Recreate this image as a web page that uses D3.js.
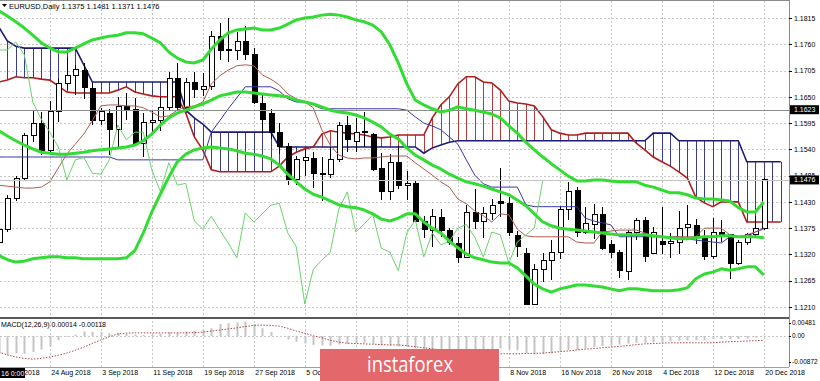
<!DOCTYPE html>
<html lang="en">
	<head>
		<meta charset="utf-8">
		<title>EURUSD, Daily</title>
		<script type="text/javascript" src="https://cdn.jsdelivr.net/npm/d3@7/dist/d3.min.js"></script>
		<style type="text/css">
			body {
				margin: 0;
				background: #ffffff;
			}
			svg {
				display: block;
			}
			text {
				font-family: "Liberation Sans", Arial, sans-serif;
				font-size: 7px;
				fill: #000000;
			}
			.grid line {
				stroke: #c8c8c8;
				stroke-dasharray: 2,2;
				shape-rendering: crispEdges;
			}
			.axis path {
				display: none;
			}
			.axis line {
				stroke: #000000;
				shape-rendering: crispEdges;
			}
			.macd.axis text {
				font-size: 6.5px;
			}
		</style>
	</head>
	<body>
		<script type="text/javascript">
			//Daily candles, 16 Aug 2018 .. 20 Dec 2018 (index 0 .. 90)
			var opens = [
				1.1344,1.1372,1.1438,1.1480,1.1568,1.1595,1.1537,1.1620,1.1677,1.1694,
				1.1706,1.1668,1.1600,1.1616,1.1581,1.1629,1.1623,1.1553,1.1597,1.1600,
				1.1627,1.1689,1.1627,1.1681,1.1666,1.1671,1.1777,1.1750,1.1748,1.1765,
				1.1738,1.1637,1.1616,1.1576,1.1545,1.1476,1.1517,1.1521,1.1490,1.1488,
				1.1518,1.1589,1.1556,1.1578,1.1572,1.1500,1.1452,1.1513,1.1465,1.1469,
				1.1390,1.1371,1.1398,1.1371,1.1342,1.1313,1.1407,1.1388,1.1405,1.1430,
				1.1427,1.1360,1.1323,1.1216,1.1289,1.1308,1.1325,1.1415,1.1453,1.1367,
				1.1382,1.1403,1.1340,1.1325,1.1284,1.1365,1.1392,1.1323,1.1348,1.1343,
				1.1344,1.1377,1.1381,1.1356,1.1315,1.1367,1.1361,1.1302,1.1346,1.1361,
				1.1375];
			var highs = [
				1.1404,1.1444,1.1485,1.1575,1.1620,1.1618,1.1642,1.1687,1.1733,1.1717,
				1.1720,1.1679,1.1627,1.1624,1.1649,1.1658,1.1648,1.1616,1.1620,1.1650,
				1.1702,1.1721,1.1690,1.1702,1.1700,1.1788,1.1804,1.1815,1.1786,1.1798,
				1.1753,1.1655,1.1624,1.1595,1.1553,1.1526,1.1540,1.1534,1.1524,1.1545,
				1.1597,1.1610,1.1606,1.1618,1.1575,1.1532,1.1530,1.1548,1.1495,1.1476,
				1.1401,1.1415,1.1415,1.1375,1.1357,1.1424,1.1456,1.1420,1.1436,1.1500,
				1.1440,1.1370,1.1334,1.1300,1.1323,1.1350,1.1421,1.1472,1.1461,1.1420,
				1.1426,1.1420,1.1350,1.1330,1.1372,1.1396,1.1398,1.1378,1.1419,1.1365,
				1.1412,1.1423,1.1395,1.1371,1.1396,1.1392,1.1363,1.1350,1.1365,1.1400,
				1.1481];
			var lows = [
				1.1334,1.1366,1.1432,1.1476,1.1556,1.1528,1.1533,1.1597,1.1664,1.1653,
				1.1645,1.1591,1.1590,1.1528,1.1545,1.1601,1.1550,1.1525,1.1575,1.1578,
				1.1622,1.1622,1.1625,1.1647,1.1652,1.1664,1.1727,1.1723,1.1727,1.1727,
				1.1636,1.1575,1.1562,1.1530,1.1465,1.1465,1.1485,1.1459,1.1432,1.1480,
				1.1514,1.1534,1.1534,1.1545,1.1495,1.1434,1.1433,1.1458,1.1433,1.1388,
				1.1355,1.1336,1.1357,1.1340,1.1302,1.1313,1.1373,1.1355,1.1392,1.1398,
				1.1358,1.1315,1.1214,1.1214,1.1263,1.1267,1.1310,1.1392,1.1357,1.1362,
				1.1353,1.1329,1.1313,1.1270,1.1267,1.1350,1.1304,1.1321,1.1320,1.1313,
				1.1320,1.1350,1.1342,1.1309,1.1310,1.1346,1.1268,1.1297,1.1340,1.1355,
				1.1371];
			var closes = [
				1.1372,1.1438,1.1480,1.1570,1.1595,1.1537,1.1620,1.1677,1.1694,1.1708,
				1.1670,1.1601,1.1620,1.1581,1.1629,1.1624,1.1553,1.1597,1.1600,1.1627,
				1.1689,1.1627,1.1681,1.1666,1.1671,1.1777,1.1748,1.1748,1.1765,1.1738,
				1.1639,1.1603,1.1576,1.1545,1.1476,1.1518,1.1523,1.1490,1.1488,1.1518,
				1.1591,1.1560,1.1576,1.1576,1.1497,1.1452,1.1512,1.1465,1.1469,1.1390,
				1.1373,1.1400,1.1371,1.1344,1.1313,1.1407,1.1388,1.1405,1.1423,1.1427,
				1.1365,1.1336,1.1216,1.1289,1.1308,1.1325,1.1415,1.1451,1.1367,1.1384,
				1.1403,1.1333,1.1325,1.1286,1.1365,1.1392,1.1315,1.1365,1.1340,1.1347,
				1.1375,1.1383,1.1356,1.1315,1.1367,1.1361,1.1302,1.1346,1.1361,1.1375,
				1.1476];

			//Bollinger bands
			var bbUpper = [
				1.1830,1.1819,1.1807,1.1794,1.1779,1.1763,1.1752,1.1744,1.1744,1.1752,
				1.1761,1.1769,1.1773,1.1777,1.1779,1.1784,1.1784,1.1782,1.1773,1.1763,
				1.1744,1.1731,1.1723,1.1721,1.1727,1.1750,1.1769,1.1784,1.1790,1.1792,
				1.1794,1.1790,1.1790,1.1794,1.1802,1.1811,1.1815,1.1817,1.1821,1.1823,
				1.1821,1.1817,1.1811,1.1807,1.1800,1.1786,1.1759,1.1721,1.1677,1.1643,
				1.1633,1.1625,1.1618,1.1622,1.1629,1.1625,1.1622,1.1618,1.1614,1.1606,
				1.1589,1.1574,1.1555,1.1539,1.1524,1.1510,1.1497,1.1484,1.1474,1.1474,
				1.1476,1.1476,1.1474,1.1472,1.1472,1.1472,1.1465,1.1461,1.1455,1.1449,
				1.1449,1.1445,1.1438,1.1436,1.1436,1.1434,1.1432,1.1418,1.1409,1.1409,
				1.1430];
			var bbMiddle = [
				1.1579,1.1568,1.1558,1.1549,1.1541,1.1534,1.1532,1.1530,1.1530,1.1532,
				1.1534,1.1537,1.1539,1.1541,1.1543,1.1545,1.1549,1.1558,1.1572,1.1591,
				1.1606,1.1616,1.1622,1.1629,1.1635,1.1643,1.1652,1.1656,1.1660,1.1660,
				1.1658,1.1656,1.1654,1.1652,1.1650,1.1643,1.1639,1.1635,1.1629,1.1622,
				1.1618,1.1616,1.1612,1.1606,1.1597,1.1587,1.1572,1.1562,1.1543,1.1528,
				1.1518,1.1507,1.1499,1.1488,1.1480,1.1472,1.1468,1.1463,1.1457,1.1451,
				1.1445,1.1434,1.1422,1.1405,1.1388,1.1380,1.1375,1.1373,1.1371,1.1369,
				1.1367,1.1365,1.1363,1.1361,1.1361,1.1361,1.1361,1.1359,1.1357,1.1355,
				1.1353,1.1353,1.1355,1.1357,1.1357,1.1359,1.1359,1.1357,1.1357,1.1357,
				1.1355];
			var bbLower = [
				1.1318,1.1309,1.1304,1.1306,1.1311,1.1313,1.1315,1.1315,1.1313,1.1313,
				1.1311,1.1311,1.1311,1.1311,1.1311,1.1313,1.1328,1.1365,1.1409,1.1446,
				1.1482,1.1514,1.1530,1.1539,1.1543,1.1545,1.1543,1.1541,1.1537,1.1532,
				1.1530,1.1526,1.1520,1.1507,1.1488,1.1472,1.1457,1.1446,1.1440,1.1432,
				1.1424,1.1420,1.1418,1.1413,1.1405,1.1394,1.1390,1.1396,1.1405,1.1405,
				1.1388,1.1375,1.1365,1.1348,1.1334,1.1321,1.1313,1.1309,1.1304,1.1302,
				1.1302,1.1292,1.1275,1.1258,1.1248,1.1241,1.1248,1.1252,1.1256,1.1256,
				1.1254,1.1252,1.1248,1.1244,1.1248,1.1248,1.1246,1.1244,1.1244,1.1244,
				1.1246,1.1250,1.1269,1.1279,1.1283,1.1290,1.1287,1.1290,1.1294,1.1294,
				1.1277];

			//Ichimoku
			var tenkan = [
				1.1465,1.1463,1.1461,1.1459,1.1459,1.1461,1.1472,1.1501,1.1530,1.1551,
				1.1572,1.1600,1.1631,1.1633,1.1633,1.1631,1.1631,1.1627,1.1618,1.1608,
				1.1610,1.1622,1.1629,1.1631,1.1639,1.1677,1.1694,1.1706,1.1715,1.1717,
				1.1715,1.1696,1.1687,1.1675,1.1656,1.1646,1.1639,1.1627,1.1581,1.1549,
				1.1528,1.1522,1.1520,1.1522,1.1522,1.1524,1.1526,1.1526,1.1526,1.1512,
				1.1499,1.1486,1.1472,1.1461,1.1436,1.1426,1.1411,1.1401,1.1388,1.1405,
				1.1403,1.1373,1.1359,1.1357,1.1357,1.1357,1.1357,1.1357,1.1346,1.1344,
				1.1344,1.1367,1.1369,1.1371,1.1371,1.1371,1.1365,1.1359,1.1357,1.1357,
				1.1357,1.1357,1.1357,1.1375,1.1375,1.1375,1.1361,1.1357,1.1361,1.1367,
				1.1373];
			var kijun = [
				1.1524,1.1524,1.1524,1.1524,1.1524,1.1524,1.1524,1.1524,1.1524,1.1524,
				1.1524,1.1524,1.1524,1.1524,1.1518,1.1518,1.1518,1.1518,1.1518,1.1518,
				1.1518,1.1518,1.1518,1.1518,1.1518,1.1576,1.1600,1.1625,1.1648,1.1671,
				1.1671,1.1671,1.1671,1.1662,1.1646,1.1639,1.1639,1.1633,1.1625,1.1625,
				1.1625,1.1625,1.1625,1.1625,1.1625,1.1625,1.1625,1.1625,1.1622,1.1608,
				1.1595,1.1589,1.1581,1.1566,1.1551,1.1518,1.1486,1.1468,1.1461,1.1461,
				1.1461,1.1461,1.1424,1.1420,1.1420,1.1420,1.1420,1.1420,1.1420,1.1396,
				1.1390,1.1386,1.1382,1.1357,1.1357,1.1357,1.1357,1.1357,1.1357,1.1357,
				1.1357,1.1353,1.1350,1.1348,1.1346,1.1344,1.1357,1.1357,1.1357,1.1367,
				1.1375];
			var senkouA = [
				1.1681,1.1685,1.1692,1.1690,1.1690,1.1687,1.1685,1.1673,1.1660,1.1658,
				1.1658,1.1658,1.1658,1.1658,1.1664,1.1671,1.1660,1.1656,1.1652,1.1650,
				1.1650,1.1650,1.1616,1.1566,1.1539,1.1497,1.1493,1.1493,1.1493,1.1493,
				1.1493,1.1493,1.1493,1.1505,1.1524,1.1534,1.1541,1.1545,1.1572,1.1579,
				1.1576,1.1574,1.1572,1.1570,1.1566,1.1564,1.1566,1.1570,1.1570,1.1570,
				1.1570,1.1606,1.1633,1.1650,1.1677,1.1692,1.1692,1.1681,1.1679,1.1664,
				1.1641,1.1637,1.1635,1.1631,1.1608,1.1581,1.1574,1.1570,1.1570,1.1574,
				1.1574,1.1574,1.1574,1.1574,1.1574,1.1553,1.1539,1.1524,1.1514,1.1505,
				1.1493,1.1480,1.1440,1.1428,1.1420,1.1430,1.1430,1.1430,1.1388,1.1388,
				1.1388,1.1388,1.1388];
			var senkouB = [
				1.1796,1.1767,1.1756,1.1752,1.1752,1.1752,1.1752,1.1752,1.1752,1.1752,
				1.1717,1.1681,1.1681,1.1681,1.1681,1.1681,1.1681,1.1681,1.1681,1.1681,
				1.1681,1.1681,1.1622,1.1606,1.1593,1.1576,1.1576,1.1576,1.1576,1.1576,
				1.1576,1.1576,1.1576,1.1545,1.1545,1.1545,1.1545,1.1545,1.1545,1.1545,
				1.1545,1.1545,1.1545,1.1545,1.1545,1.1545,1.1545,1.1545,1.1545,1.1545,
				1.1532,1.1543,1.1549,1.1555,1.1558,1.1558,1.1558,1.1558,1.1558,1.1558,
				1.1558,1.1558,1.1558,1.1558,1.1558,1.1558,1.1558,1.1558,1.1558,1.1558,
				1.1558,1.1558,1.1558,1.1558,1.1558,1.1558,1.1558,1.1574,1.1574,1.1574,
				1.1558,1.1558,1.1558,1.1558,1.1558,1.1558,1.1558,1.1558,1.1514,1.1514,
				1.1514,1.1514,1.1514];
			var chikouShift = 26;

			//MACD(12,26,9)
			var macdMain = [
				-0.0050,-0.0052,-0.0049,-0.0050,-0.0045,-0.0038,-0.0030,-0.0012,-0.0002,0.0004,
				0.0013,0.0012,0.0011,0.0008,0.0009,0.0007,0.0004,0.0003,0.0004,0.0006,
				0.0011,0.0010,0.0013,0.0014,0.0017,0.0022,0.0034,0.0036,0.0038,0.0041,
				0.0034,0.0022,0.0012,0.0000,-0.0010,-0.0016,-0.0021,-0.0025,-0.0026,-0.0027,
				-0.0024,-0.0022,-0.0020,-0.0019,-0.0022,-0.0026,-0.0027,-0.0029,-0.0031,-0.0035,
				-0.0039,-0.0041,-0.0043,-0.0046,-0.0049,-0.0045,-0.0043,-0.0040,-0.0037,-0.0035,
				-0.0037,-0.0040,-0.0049,-0.0052,-0.0051,-0.0049,-0.0044,-0.0040,-0.0039,-0.0035,
				-0.0030,-0.0028,-0.0025,-0.0024,-0.0021,-0.0019,-0.0019,-0.0018,-0.0016,-0.0015,
				-0.0013,-0.0012,-0.0011,-0.0012,-0.0009,-0.0008,-0.0009,-0.0008,-0.0007,-0.0004,
				0.00014];
			var macdSignal = [
				-0.0045,-0.0053,-0.0059,-0.0063,-0.0065,-0.0063,-0.0059,-0.0054,-0.0048,-0.0040,
				-0.0031,-0.0021,-0.0011,-0.0002,0.0006,0.0008,0.0009,0.0009,0.0009,0.0009,
				0.0009,0.0009,0.0009,0.0010,0.0011,0.0014,0.0017,0.0020,0.0023,0.0027,
				0.0030,0.0031,0.0030,0.0028,0.0022,0.0014,0.0008,0.0001,-0.0005,-0.0012,
				-0.0017,-0.0020,-0.0021,-0.0022,-0.0023,-0.0024,-0.0025,-0.0025,-0.0027,-0.0030,
				-0.0033,-0.0036,-0.0039,-0.0042,-0.0045,-0.0047,-0.0049,-0.0050,-0.0050,-0.0050,
				-0.0050,-0.0050,-0.0049,-0.0049,-0.0048,-0.0046,-0.0044,-0.0042,-0.0039,-0.0037,
				-0.0035,-0.0033,-0.0031,-0.0029,-0.0027,-0.0024,-0.0022,-0.0021,-0.0020,-0.0019,
				-0.0019,-0.0019,-0.0019,-0.0019,-0.0019,-0.0017,-0.0016,-0.0015,-0.0014,-0.0013,
				-0.00118];

			//Axis labels
			var priceTicks = [1.1815,1.1760,1.1705,1.1650,1.1595,1.1540,1.1485,1.1430,1.1375,1.1320,1.1265,1.1210];
			var macdTicks = [0.00481, 0, -0.00872];
			var dateTickIndex = [0,6,12,18,24,30,36,42,48,54,60,66,72,78,84,90];
			var dateTickLabels = ["16 Aug 2018","24 Aug 2018","3 Sep 2018","11 Sep 2018","19 Sep 2018","27 Sep 2018",
				"5 Oct 2018","15 Oct 2018","23 Oct 2018","31 Oct 2018","8 Nov 2018","16 Nov 2018",
				"26 Nov 2018","4 Dec 2018","12 Dec 2018","20 Dec 2018"];
			var levelLine = 1.1623;

			//Width and height
			var w = 820;
			var h = 381;
			var plotRight = 789;
			var mainTop = 1;
			var mainBottom = 317;
			var macdTop = 319;
			var macdBottom = 367;
			var last = closes.length - 1;

			//Scales
			var xScale = d3.scaleLinear()
				.domain([0, 90])
				.range([-1.2, 763.8]);
			var yScale = d3.scaleLinear()
				.domain([1.1210, 1.1815])
				.range([307, 18]);
			var mScale = d3.scaleLinear()
				.domain([-0.00872, 0.00481])
				.range([macdBottom, macdTop]);

			function px(i) {
				return Math.round(xScale(i)) + 0.5;
			}

			var svg = d3.select("body")
				.append("svg")
				.attr("width", w)
				.attr("height", h);

			svg.append("rect")
				.attr("width", w)
				.attr("height", h)
				.attr("fill", "#ffffff");

			svg.append("clipPath")
				.attr("id", "main-area")
				.append("rect")
				.attr("x", 0)
				.attr("y", mainTop)
				.attr("width", plotRight)
				.attr("height", mainBottom - mainTop);

			svg.append("clipPath")
				.attr("id", "macd-area")
				.append("rect")
				.attr("x", 0)
				.attr("y", macdTop)
				.attr("width", plotRight)
				.attr("height", macdBottom - macdTop);

			//Grid
			var grid = svg.append("g").attr("class", "grid");
			grid.selectAll(".hg")
				.data(priceTicks)
				.enter()
				.append("line")
				.attr("x1", 0)
				.attr("x2", plotRight)
				.attr("y1", function(d) { return Math.round(yScale(d)) + 0.5; })
				.attr("y2", function(d) { return Math.round(yScale(d)) + 0.5; });
			grid.selectAll(".vg")
				.data(dateTickIndex)
				.enter()
				.append("line")
				.attr("x1", function(d) { return px(d); })
				.attr("x2", function(d) { return px(d); })
				.attr("y1", mainTop)
				.attr("y2", macdBottom);
			grid.append("line")
				.attr("x1", 0)
				.attr("x2", plotRight)
				.attr("y1", Math.round(mScale(0)) + 0.5)
				.attr("y2", Math.round(mScale(0)) + 0.5);

			var main = svg.append("g").attr("clip-path", "url(#main-area)");

			//Ichimoku cloud hatch
			main.append("g")
				.selectAll("line")
				.data(d3.range(senkouA.length))
				.enter()
				.append("line")
				.attr("x1", function(i) { return px(i); })
				.attr("x2", function(i) { return px(i); })
				.attr("y1", function(i) { return yScale(senkouA[i]); })
				.attr("y2", function(i) { return yScale(senkouB[i]); })
				.attr("stroke", function(i) { return senkouA[i] > senkouB[i] ? "#b43a3a" : "#3b3b8c"; })
				.attr("stroke-width", 1);

			var lineGen = function(arr, offset) {
				return d3.line()
					.x(function(d, i) { return xScale(i + (offset || 0)); })
					.y(function(d) { return yScale(d); })(arr);
			};

			main.append("path")
				.attr("d", lineGen(senkouB))
				.attr("fill", "none")
				.attr("stroke", "#1c1c78")
				.attr("stroke-width", 1.6);
			main.append("path")
				.attr("d", lineGen(senkouA))
				.attr("fill", "none")
				.attr("stroke", "#b01c1c")
				.attr("stroke-width", 1.6);

			//Candles
			var bars = d3.range(closes.length);
			var candles = main.append("g");
			candles.selectAll("line")
				.data(bars)
				.enter()
				.append("line")
				.attr("x1", function(i) { return px(i); })
				.attr("x2", function(i) { return px(i); })
				.attr("y1", function(i) { return yScale(highs[i]); })
				.attr("y2", function(i) { return yScale(lows[i]); })
				.attr("stroke", "#000000")
				.attr("shape-rendering", "crispEdges");
			candles.selectAll("rect")
				.data(bars)
				.enter()
				.append("rect")
				.attr("x", function(i) { return px(i) - 2.5; })
				.attr("y", function(i) { return yScale(Math.max(opens[i], closes[i])); })
				.attr("width", 5)
				.attr("height", function(i) { return Math.max(1, Math.abs(yScale(opens[i]) - yScale(closes[i]))); })
				.attr("fill", function(i) { return closes[i] >= opens[i] ? "#ffffff" : "#000000"; })
				.attr("stroke", "#000000")
				.attr("stroke-width", 1)
				.attr("shape-rendering", "crispEdges");

			//Tenkan, Kijun, Chikou
			main.append("path")
				.attr("d", lineGen(kijun))
				.attr("fill", "none")
				.attr("stroke", "#3838a8")
				.attr("stroke-width", 1);
			main.append("path")
				.attr("d", lineGen(tenkan))
				.attr("fill", "none")
				.attr("stroke", "#b05a52")
				.attr("stroke-width", 1);
			main.append("path")
				.attr("d", lineGen(closes.slice(chikouShift), 0))
				.attr("fill", "none")
				.attr("stroke", "#6ad46a")
				.attr("stroke-width", 1);

			//Horizontal level and bid line
			main.append("line")
				.attr("x1", 0)
				.attr("x2", plotRight)
				.attr("y1", Math.round(yScale(levelLine)) + 0.5)
				.attr("y2", Math.round(yScale(levelLine)) + 0.5)
				.attr("stroke", "#8c8c8c");
			main.append("line")
				.attr("x1", 0)
				.attr("x2", plotRight)
				.attr("y1", Math.round(yScale(closes[last])) + 0.5)
				.attr("y2", Math.round(yScale(closes[last])) + 0.5)
				.attr("stroke", "#c4c4c4");

			//Bollinger bands
			[bbUpper, bbMiddle, bbLower].forEach(function(arr) {
				main.append("path")
					.attr("d", lineGen(arr))
					.attr("fill", "none")
					.attr("stroke", "#33dc33")
					.attr("stroke-width", 3)
					.attr("stroke-linejoin", "round");
			});

			//MACD panel
			var macd = svg.append("g").attr("clip-path", "url(#macd-area)");
			macd.selectAll("line")
				.data(bars)
				.enter()
				.append("line")
				.attr("x1", function(i) { return px(i); })
				.attr("x2", function(i) { return px(i); })
				.attr("y1", mScale(0))
				.attr("y2", function(i) { return mScale(macdMain[i]); })
				.attr("stroke", "#c4c4c4")
				.attr("stroke-width", 2);
			macd.append("path")
				.attr("d", d3.line()
					.x(function(d, i) { return xScale(i); })
					.y(function(d) { return mScale(d); })(macdSignal))
				.attr("fill", "none")
				.attr("stroke", "#b04848")
				.attr("stroke-width", 1)
				.attr("stroke-dasharray", "1.5,1.5");

			//Frames
			svg.append("line")
				.attr("x1", 0).attr("x2", plotRight)
				.attr("y1", 0.5).attr("y2", 0.5)
				.attr("stroke", "#8c8c8c");
			svg.append("line")
				.attr("x1", plotRight + 0.5).attr("x2", plotRight + 0.5)
				.attr("y1", 0).attr("y2", macdBottom)
				.attr("stroke", "#8c8c8c");
			svg.append("rect")
				.attr("x", 0).attr("y", mainBottom)
				.attr("width", plotRight).attr("height", 2)
				.attr("fill", "#5a5a5a");
			svg.append("line")
				.attr("x1", 0).attr("x2", plotRight)
				.attr("y1", macdBottom + 0.5).attr("y2", macdBottom + 0.5)
				.attr("stroke", "#a0a0a0");

			//Price axis
			var yAxis = d3.axisRight(yScale)
				.tickValues(priceTicks)
				.tickSize(3)
				.tickPadding(2)
				.tickFormat(d3.format(".4f"));
			svg.append("g")
				.attr("class", "axis")
				.attr("transform", "translate(" + plotRight + ",0)")
				.call(yAxis);

			//Highlighted price labels
			[levelLine, closes[last]].forEach(function(v) {
				var yy = yScale(v);
				svg.append("rect")
					.attr("x", plotRight + 1)
					.attr("y", yy - 4.5)
					.attr("width", 29)
					.attr("height", 9)
					.attr("fill", "#000000");
				svg.append("text")
					.attr("x", plotRight + 5)
					.attr("y", yy + 2.5)
					.style("fill", "#ffffff")
					.text(d3.format(".4f")(v));
			});

			//MACD axis
			var mAxis = d3.axisRight(mScale)
				.tickValues(macdTicks)
				.tickSize(2)
				.tickPadding(1)
				.tickFormat(function(d) { return d === 0 ? "0.00" : d.toFixed(5); });
			var mAxisG = svg.append("g")
				.attr("class", "macd axis")
				.attr("transform", "translate(" + plotRight + ",0)")
				.call(mAxis);
			mAxisG.selectAll(".tick")
				.attr("transform", function(d) {
					var yy = Math.min(Math.max(mScale(d), macdTop + 4), macdBottom - 5);
					return "translate(0," + yy + ")";
				});

			//Date axis
			var xAxis = d3.axisBottom(xScale)
				.tickValues(dateTickIndex)
				.tickSize(0)
				.tickPadding(3)
				.tickFormat(function(d, i) { return dateTickLabels[i]; });
			var xAxisG = svg.append("g")
				.attr("class", "axis")
				.attr("transform", "translate(0," + macdBottom + ")")
				.call(xAxis);
			xAxisG.selectAll("text")
				.attr("text-anchor", "start")
				.attr("dx", 1);

			//Crosshair time label
			svg.append("rect")
				.attr("x", 0).attr("y", 368)
				.attr("width", 25).attr("height", 10)
				.attr("fill", "#000000");
			svg.append("text")
				.attr("x", 1).attr("y", 376)
				.style("fill", "#ffffff")
				.text("16 0:00");

			//Header texts
			svg.append("path")
				.attr("d", "M2,4 L7,4 L4.5,7 Z")
				.attr("fill", "#000000");
			svg.append("text")
				.attr("x", 9)
				.attr("y", 9)
				.style("font-size", "7.5px")
				.text("EURUSD,Daily  " + [opens[last], highs[last], lows[last], closes[last]].map(d3.format(".4f")).join(" "));
			svg.append("text")
				.attr("x", 1)
				.attr("y", 327)
				.text("MACD(12,26,9) " + macdMain[last].toFixed(5) + " " + macdSignal[last].toFixed(5));

			//Watermark
			svg.append("rect")
				.attr("x", 320)
				.attr("y", 349)
				.attr("width", 179)
				.attr("height", 33)
				.attr("fill", "#e3676b");
			svg.append("text")
				.attr("x", 367)
				.attr("y", 372)
				.attr("textLength", 86)
				.attr("lengthAdjust", "spacingAndGlyphs")
				.style("font-family", "'Open Sans', sans-serif")
				.style("font-size", "21px")
				.style("fill", "#ffffff")
				.text("instaforex");
		</script>
	</body>
</html>
